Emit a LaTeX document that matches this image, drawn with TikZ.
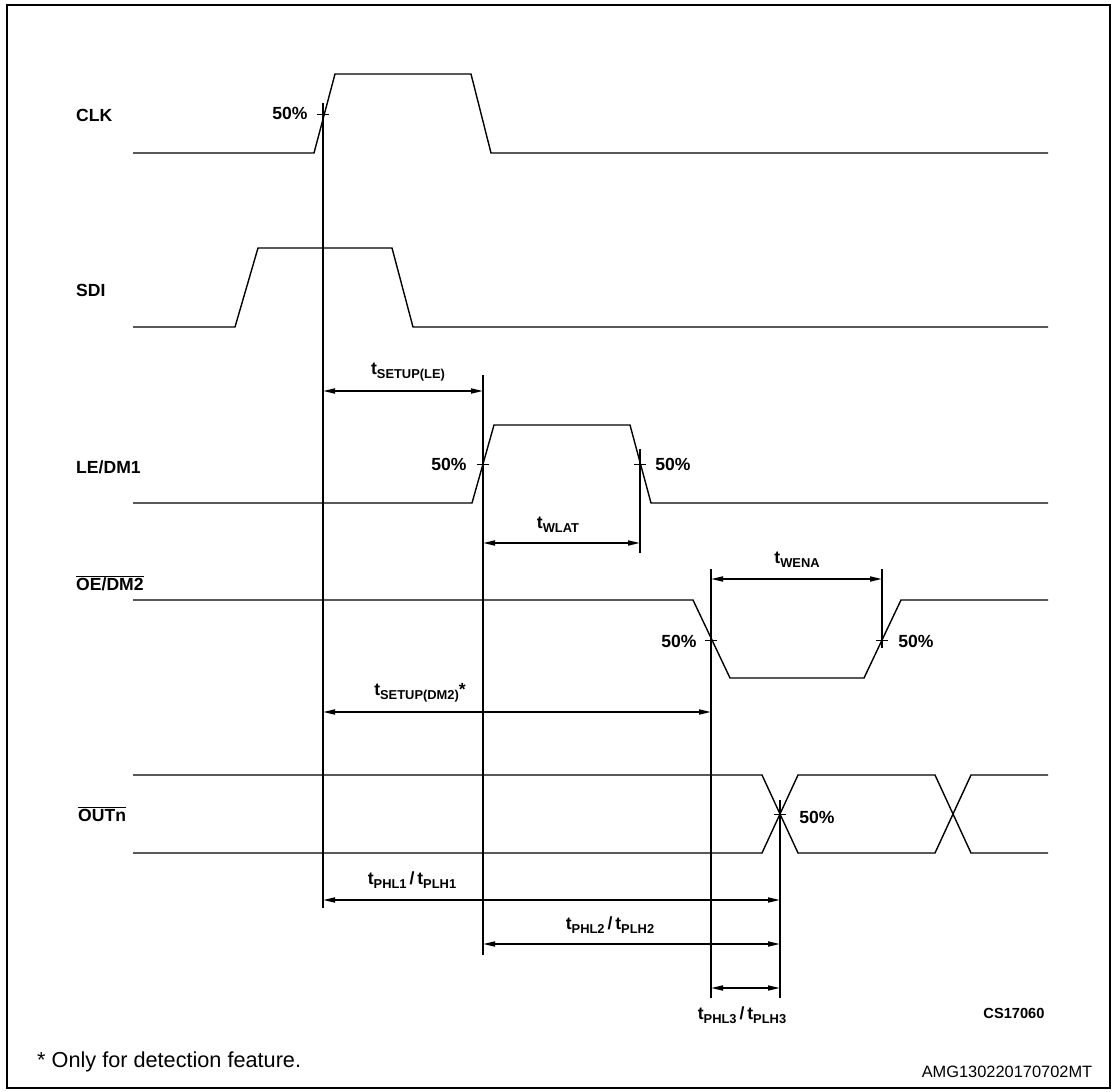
\documentclass[tikz,border=0pt]{standalone}
\usepackage{fontspec}
\setmainfont{Liberation Sans}
\usepackage{tikz}
\usetikzlibrary{arrows.meta, positioning}

\newcommand{\tsub}[1]{t\raisebox{-0.45ex}{\fontsize{11}{12}\selectfont #1}}

\begin{document}
\begin{tikzpicture}[
			x=0.3mm, y=-0.3mm,
			every node/.style={inner sep=0pt, font=\fontsize{15}{17}\selectfont\bfseries},
			signal/.style={line width=0.42mm},
			refline/.style={line width=0.6mm},
			tick/.style={line width=0.3mm},
			dim/.style={{Triangle[length=3.6mm,width=1.5mm]}-{Triangle[length=3.6mm,width=1.5mm]}, line width=0.5mm},
			signame/.style={anchor=west},
			note/.style={font=\fontsize{18.5}{20}\selectfont, anchor=west}
			]
			\useasboundingbox (0,0) rectangle (1115,1092);
			\draw[line width=0.75mm] (7,5) rectangle (1110,1088);
			
			% Signal names
			\node (clk) [signame] at (76,115) {CLK};
			\node (sdi) [signame] at (76,290) {SDI};
			\node (le) [signame] at (76,467) {LE/DM1};
			\node (oe) [signame] at (76,583) {$\overline{\hbox{OE/DM2}}$};
			\node (outn) [signame] at (78,814) {$\overline{\hbox{OUTn}}$};
			
			% Waveforms
			\draw[signal] (133,153) -- (314,153) -- (335,74) -- (471,74) -- (491,153) -- (1048,153);
			\draw[signal] (133,327) -- (235,327) -- (258,248) -- (392,248) -- (413,327) -- (1048,327);
			\draw[signal] (133,503) -- (472,503) -- (494,425) -- (630,425) -- (651,503) -- (1048,503);
			\draw[signal] (133,600) -- (693,600) -- (730,678) -- (864,678) -- (901,600) -- (1048,600);
			\draw[signal] (133,775) -- (762,775) -- (798,853) -- (935,853) -- (971,775) -- (1048,775);
			\draw[signal] (133,853) -- (762,853) -- (798,775) -- (935,775) -- (971,853) -- (1048,853);
			
			% 50% points
			\coordinate (clk50) at (323,115);
			\coordinate (le50a) at (483,464);
			\coordinate (le50b) at (640,464);
			\coordinate (oe50a) at (711,640);
			\coordinate (oe50b) at (882,640);
			\coordinate (out50) at (780,814);
			\foreach \p in {clk50,le50a,le50b,oe50a,oe50b,out50}
				\draw[tick] ([xshift=-1.8mm]\p) -- ([xshift=1.8mm]\p);
			
			\node (p1) at (290,113) {50\%};
			\node (p2) at (449,464) {50\%};
			\node (p3) at (673,464) {50\%};
			\node (p4) at (679,641) {50\%};
			\node (p5) at (916,641) {50\%};
			\node (p6) at (817,817) {50\%};
			
			% Reference lines
			\draw[refline] (clk50 |- 0,103) -- (clk50 |- 0,908);
			\draw[refline] (le50a |- 0,375) -- (le50a |- 0,955);
			\draw[refline] (le50b |- 0,449) -- (le50b |- 0,553);
			\draw[refline] (oe50a |- 0,569) -- (oe50a |- 0,998);
			\draw[refline] (oe50b |- 0,569) -- (oe50b |- 0,648);
			\draw[refline] (out50 |- 0,800) -- (out50 |- 0,998);
			
			% Timings
			\draw[dim] (clk50 |- 0,391) -- (le50a |- 0,391);
			\node (tsetle) at (408,372) {\tsub{SETUP(LE)}};
			\draw[dim] (le50a |- 0,543) -- (le50b |- 0,543);
			\node (twlat) at (558,525) {\tsub{WLAT}};
			\draw[dim] (oe50a |- 0,579) -- (oe50b |- 0,579);
			\node (twena) at (797,560) {\tsub{WENA}};
			\draw[dim] (clk50 |- 0,712) -- (oe50a |- 0,712);
			\node (tsetdm) at (420,693) {\tsub{SETUP(DM2)}*};
			\draw[dim] (clk50 |- 0,900) -- (out50 |- 0,900);
			\node (tphl1) at (412,880) {\tsub{PHL1}\,/\,\tsub{PLH1}};
			\draw[dim] (le50a |- 0,944) -- (out50 |- 0,944);
			\node (tphl2) at (610,925) {\tsub{PHL2}\,/\,\tsub{PLH2}};
			\draw[dim] (oe50a |- 0,988) -- (out50 |- 0,988);
			\node (tphl3) at (742,1015) {\tsub{PHL3}\,/\,\tsub{PLH3}};
			
			% Notes
			\node (cs) [font=\fontsize{12.5}{14}\selectfont\bfseries] at (1014,1013) {CS17060};
			\node (star) [note] at (37,1062) {* Only for detection feature.};
			\node (amg) [font=\fontsize{14}{16}\selectfont] at (1007,1072) {AMG130220170702MT};
			
		\end{tikzpicture}
\end{document}
